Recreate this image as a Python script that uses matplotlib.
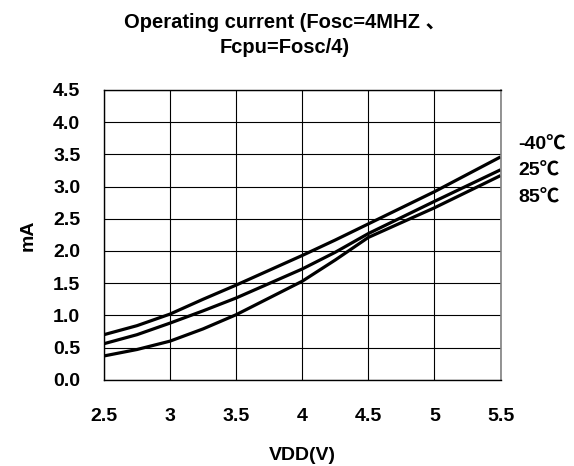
import matplotlib.pyplot as plt

plt.rcParams['font.family'] = ['Liberation Sans', 'Noto Sans CJK SC', 'DejaVu Sans']
plt.rcParams['font.weight'] = 'bold'

# Datos
vdd = [2.5, 2.75, 3.0, 3.25, 3.5, 4.0, 4.25, 4.5, 5.0, 5.5]
i_m40 = [0.70, 0.84, 1.02, 1.25, 1.47, 1.93, 2.17, 2.42, 2.92, 3.46]
i_25 = [0.56, 0.70, 0.88, 1.07, 1.27, 1.72, 1.98, 2.27, 2.77, 3.26]
i_85 = [0.37, 0.47, 0.60, 0.79, 1.01, 1.53, 1.86, 2.21, 2.67, 3.17]
etiquetas = ['-40℃', '25℃', '85℃']

xticks = [2.5, 3, 3.5, 4, 4.5, 5, 5.5]
xtick_labels = ['2.5', '3', '3.5', '4', '4.5', '5', '5.5']
yticks = [0.0, 0.5, 1.0, 1.5, 2.0, 2.5, 3.0, 3.5, 4.0, 4.5]

fig = plt.figure(figsize=(5.74, 4.66), dpi=100)
ax = fig.add_axes([0.181, 0.185, 0.691, 0.622])

for serie in (i_m40, i_25, i_85):
    ax.plot(vdd, serie, color='black', linewidth=2.3, solid_capstyle='butt')

ax.set_xlim(2.5, 5.5)
ax.set_ylim(0, 4.5)
ax.set_xticks(xticks)
ax.set_xticklabels(xtick_labels)
ax.set_yticks(yticks)
ax.set_yticklabels(['%.1f' % v for v in yticks])
ax.grid(True, color='black', linewidth=0.8)
ax.tick_params(axis='both', length=0, labelsize=14)
ax.tick_params(axis='x', pad=20)
ax.tick_params(axis='y', pad=17)
for lado in ['top', 'bottom', 'left']:
    ax.spines[lado].set_linewidth(1.0)
ax.spines['right'].set_color('#808080')
ax.spines['right'].set_linewidth(1.2)

ax.set_xlabel('VDD(V)', fontsize=14, fontweight='bold', labelpad=16)
ax.set_ylabel('mA', fontsize=14, fontweight='bold', labelpad=12)

# Titulo centrado en la figura
fig.text(0.496, 0.877, 'Operating current (Fosc=4MHZ 、\nFcpu=Fosc/4)', fontsize=14.5,
         fontweight='bold', ha='center', va='bottom', linespacing=1.45,
         multialignment='center')

# Etiquetas de temperatura a la derecha
for k, txt in enumerate(etiquetas):
    ax.text(1.044, 0.81 - k * 0.091, txt, transform=ax.transAxes,
            fontsize=14, fontweight='bold', va='center', ha='left')

plt.savefig('out.png', dpi=100)
plt.close()
